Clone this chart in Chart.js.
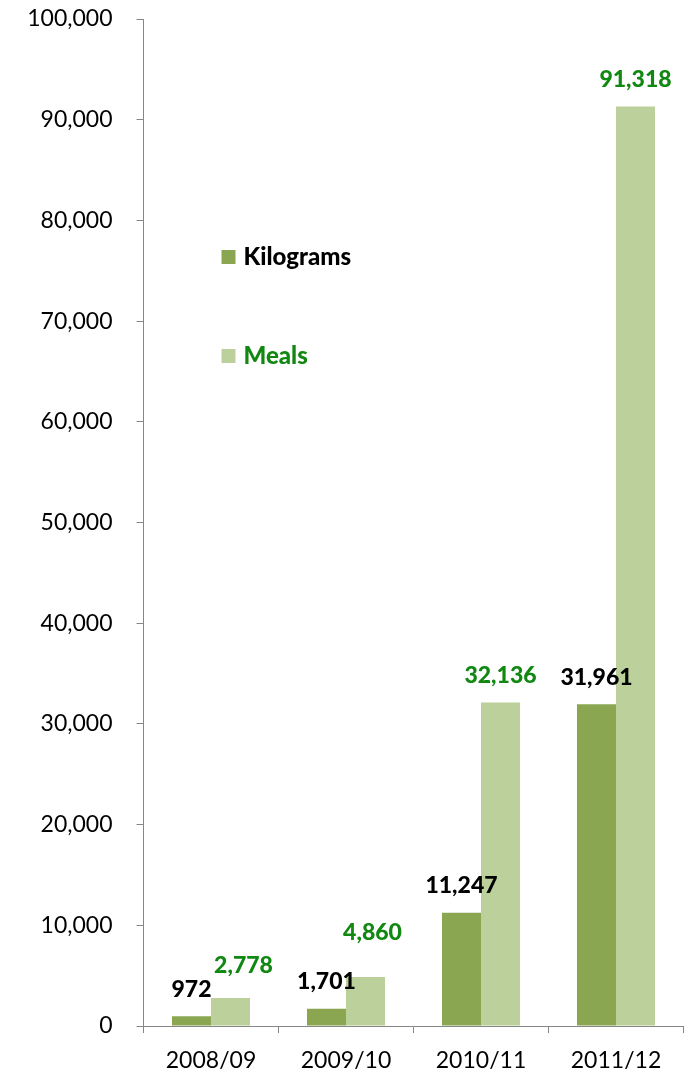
<!DOCTYPE html>
<html>
<head>
<meta charset="utf-8">
<script src="https://cdn.jsdelivr.net/npm/chart.js@4.4.0/dist/chart.umd.min.js"></script>
<style>
html,body{margin:0;padding:0;background:#fff;}
#wrap{width:697px;height:1074px;position:relative;}
</style>
</head>
<body>
<div id="wrap"><canvas id="c" width="697" height="1074"></canvas></div>
<script>
const categories = ['2008/09', '2009/10', '2010/11', '2011/12'];
const kilograms = [972, 1701, 11247, 31961];
const meals = [2778, 4860, 32136, 91318];
const yTicks = [0, 10000, 20000, 30000, 40000, 50000, 60000, 70000, 80000, 90000, 100000];
const seriesNames = ['Kilograms', 'Meals'];

const DARK = '#8ba650';
const LIGHT = '#bbd09a';
const GREEN_TEXT = '#118811';
const AXIS = '#868686';
const FONT = 'Lato, "Open Sans", sans-serif';
// small per-point nudges for the data labels (style only)
const labelNudge = [
  [[0,0],[0,0],[0,0],[0,0]],
  [[13,-5],[7,-17],[0,0],[0,0]]
];
const labelColors = ['#000000', GREEN_TEXT];

const fmt = v => v.toLocaleString('en-US');

const valueLabels = {
  id: 'valueLabels',
  afterDatasetsDraw(chart) {
    const ctx = chart.ctx;
    ctx.save();
    ctx.font = '900 23px ' + FONT;
    ctx.textAlign = 'center';
    ctx.textBaseline = 'middle';
    chart.data.datasets.forEach((ds, di) => {
      const meta = chart.getDatasetMeta(di);
      meta.data.forEach((el, i) => {
        const n = labelNudge[di][i];
        ctx.fillStyle = labelColors[di];
        ctx.fillText(fmt(ds.data[i]), el.x + n[0], el.y - 27 + n[1]);
      });
    });
    ctx.restore();
  }
};

const innerLegend = {
  id: 'innerLegend',
  afterDraw(chart) {
    const ctx = chart.ctx;
    const ca = chart.chartArea;
    ctx.save();
    ctx.font = '900 24px ' + FONT;
    ctx.textBaseline = 'middle';
    ctx.textAlign = 'left';
    chart.data.datasets.forEach((ds, di) => {
      const x = ca.left + 78;
      const y = ca.top + 238 + di * 99;
      ctx.fillStyle = ds.backgroundColor;
      ctx.fillRect(x, y - 7, 14, 14);
      ctx.fillStyle = labelColors[di];
      ctx.fillText(ds.label, x + 22, y);
    });
    ctx.restore();
  }
};

new Chart(document.getElementById('c'), {
  type: 'bar',
  data: {
    labels: categories,
    datasets: [
      { label: seriesNames[0], data: kilograms, backgroundColor: DARK, borderWidth: 0 },
      { label: seriesNames[1], data: meals, backgroundColor: LIGHT, borderWidth: 0 }
    ]
  },
  options: {
    responsive: false,
    animation: false,
    devicePixelRatio: 1,
    layout: { padding: { top: 19, right: 13.5, bottom: 0, left: 0 } },
    plugins: { legend: { display: false }, tooltip: { enabled: false } },
    datasets: { bar: { barPercentage: 1, categoryPercentage: 0.578 } },
    scales: {
      x: {
        grid: { display: true, drawOnChartArea: false, offset: true, color: AXIS, tickLength: 7, lineWidth: 1 },
        border: { display: true, color: AXIS, width: 1 },
        ticks: { color: '#000', font: { family: FONT, size: 23 }, padding: 14, maxRotation: 0 },
        afterFit(s) { s.height = 48; s.paddingLeft = 0; s.paddingRight = 0; }
      },
      y: {
        min: 0, max: 100000,
        afterBuildTicks(s) { s.ticks = yTicks.map(v => ({ value: v })); },
        grid: { display: true, drawOnChartArea: false, color: AXIS, tickLength: 7, lineWidth: 1 },
        border: { display: true, color: AXIS, width: 1 },
        ticks: { color: '#000', font: { family: FONT, size: 23 }, padding: 24, callback: v => fmt(v) },
        afterFit(s) { s.width = 143.5; s.paddingTop = 0; s.paddingBottom = 0; }
      }
    }
  },
  plugins: [valueLabels, innerLegend]
});
</script>
</body>
</html>
